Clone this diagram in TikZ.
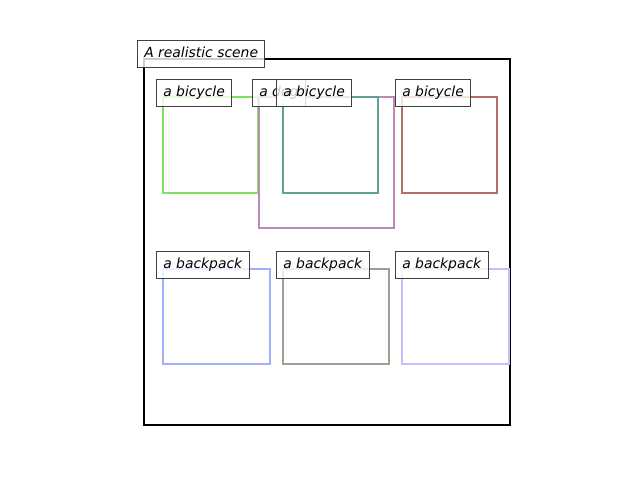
\documentclass[tikz,border=0pt]{standalone}
\usepackage{fontspec}
\setmainfont{DejaVu Sans}
\usepackage{tikz}
\usetikzlibrary{positioning}
\definecolor{bikegreen}{RGB}{128,224,96}
\definecolor{dogpink}{RGB}{192,136,184}
\definecolor{biketeal}{RGB}{96,160,150}
\definecolor{bikebrown}{RGB}{176,112,104}
\definecolor{packblue}{RGB}{160,176,255}
\definecolor{packolive}{RGB}{160,160,144}
\definecolor{packpale}{RGB}{192,192,255}

\begin{document}
\begin{tikzpicture}[x=0.72pt,y=-0.72pt,semithick,
	lbl/.style={draw=black!75,line width=0.72pt,fill=white,fill opacity=0.8,text opacity=1,anchor=north west,inner xsep=4.9pt,inner ysep=4.7pt,font=\itshape,text height=7.6pt,text depth=2.4pt},
	obj/.style={line width=1.6pt}]
	\useasboundingbox (0,0) rectangle (640,480);

	% scene frame
	\draw[line width=1.6pt] (144,59) rectangle (510,425);

	% objects
	\draw[obj,bikegreen]	(163,97)	rectangle (258,193);
	\draw[obj,dogpink]		(259,97)	rectangle (394,228);
	\draw[obj,biketeal]		(283,97)	rectangle (378,193);
	\draw[obj,bikebrown]	(402,97)	rectangle (497,193);
	\draw[obj,packblue]		(163,269)	rectangle (270,364);
	\draw[obj,packolive]	(283,269)	rectangle (389,364);
	\draw[obj,packpale]		(402,269)	rectangle (509,364);

	% labels
	\node[lbl]	(scene)		at (137,40)		{A realistic scene};
	\node[lbl]	(bike1)		at (156,79)		{a bicycle};
	\node[lbl]	(dog)		at (252,79)		{a dog};
	\node[lbl]	(bike2)		at (276,79)		{a bicycle};
	\node[lbl]	(bike3)		at (395,79)		{a bicycle};
	\node[lbl]	(pack1)		at (156,251)	{a backpack};
	\node[lbl]	(pack2)		at (276,251)	{a backpack};
	\node[lbl]	(pack3)		at (395,251)	{a backpack};
\end{tikzpicture}
\end{document}
